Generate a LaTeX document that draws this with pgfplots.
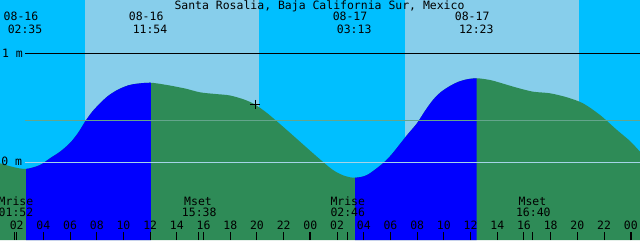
\documentclass[border=0pt]{standalone}
\usepackage{fontspec}
\setmainfont{DejaVu Sans Mono}
\usepackage{pgfplots}
\usepackage{pgfplotstable}
\pgfplotsset{compat=1.18}
\usepgfplotslibrary{fillbetween}
\definecolor{nightc}{RGB}{0,191,255}
\definecolor{dayc}{RGB}{135,206,235}
\definecolor{floodc}{RGB}{0,0,255}
\definecolor{ebbc}{RGB}{46,139,87}
\definecolor{zeroc}{RGB}{165,212,232}
\definecolor{midc}{RGB}{100,165,140}

% hours from 08-16 00:00, water level in m
\pgfplotstableread{
h m
0.750 -0.009
1.724 -0.043
2.698 -0.061
3.746 -0.025
4.495 0.037
5.244 0.097
5.993 0.177
6.593 0.269
7.117 0.372
7.641 0.461
8.241 0.541
8.840 0.608
9.514 0.662
10.113 0.695
10.713 0.716
11.986 0.730
13.259 0.709
14.608 0.677
15.731 0.642
16.855 0.627
17.978 0.613
19.102 0.573
19.851 0.530
20.750 0.452
21.948 0.327
23.221 0.189
24.495 0.051
25.694 -0.071
26.593 -0.126
27.343 -0.141
28.240 -0.117
29.439 -0.009
30.112 0.076
30.712 0.168
31.311 0.260
31.986 0.358
32.585 0.471
33.184 0.572
33.783 0.645
34.457 0.700
35.056 0.737
35.730 0.761
36.481 0.771
37.454 0.755
38.205 0.730
39.478 0.684
40.676 0.648
41.948 0.633
43.221 0.596
44.419 0.541
45.693 0.434
46.966 0.296
47.940 0.195
48.690 0.097
}\tide

\newcommand{\lbl}[3]{\node[anchor=base,inner sep=0pt] at (rel axis cs:#1,#2) {#3};}

\begin{document}
\begin{tikzpicture}[font=\fontsize{8.6pt}{10pt}\selectfont]
\begin{axis}[
  width=480pt, height=180pt, scale only axis,
  xmin=0.75, xmax=48.69, ymin=-0.713, ymax=1.489,
  axis background/.style={fill=nightc},
  axis line style={draw=none},
  axis on top,
  clip mode=individual,
  ytick=\empty,
  xtick={1.867,2,4,6,8,10,12,14,15.633,16,18,20,22,24,26,26.767,28,30,32,34,36,38,40,40.667,42,44,46,48},
  xticklabels={{},02,04,06,08,10,12,14,{},16,18,20,22,00,02,{},04,06,08,10,12,14,16,{},18,20,22,00},
  xtick pos=bottom, tick align=inside,
  major tick length=6pt,
  tick style={black, line width=0.75pt},
  xticklabel style={anchor=base, yshift=8pt, inner sep=0pt, font=\fontsize{8.6pt}{10pt}\selectfont},
  extra x ticks={24,48}, extra x tick labels={},
  extra x tick style={major tick style={line width=1.6pt}},
]
\addplot[draw=none, name path=top] coordinates {(0.75,1.489) (48.69,1.489)};
\addplot[draw=none, name path=bottom] coordinates {(0.75,-0.713) (48.69,-0.713)};
\addplot[draw=none, name path=tide, smooth] table[x=h,y=m]{\tide};

% daylight bands (sunrise/sunset)
\addplot[dayc] fill between[of=top and bottom, soft clip={domain=7.117:20.151}];
\addplot[dayc] fill between[of=top and bottom, soft clip={domain=31.087:44.120}];
% ebb and flood
\addplot[ebbc] fill between[of=tide and bottom];
\addplot[floodc] fill between[of=tide and bottom, soft clip={domain=2.698:12.05}];
\addplot[floodc] fill between[of=tide and bottom, soft clip={domain=27.343:36.46}];

\addplot[black, line width=1.1pt] coordinates {(2.623,1) (48.69,1)};
\addplot[zeroc, line width=0.75pt] coordinates {(2.623,0) (48.69,0)};
\addplot[midc, line width=0.75pt] coordinates {(2.623,0.385) (48.69,0.385)};
\addplot[black, only marks, mark=+, mark size=3.4pt, mark options={line width=0.75pt}] coordinates {(19.851,0.530)};

\lbl{0.4992}{0.9604}{Santa Rosalia, Baja California Sur, Mexico}
\lbl{0.0328}{0.9125}{08-16}
\lbl{0.0391}{0.8613}{02:35}
\lbl{0.2284}{0.9125}{08-16}
\lbl{0.2344}{0.8613}{11:54}
\lbl{0.5469}{0.9125}{08-17}
\lbl{0.5534}{0.8613}{03:13}
\lbl{0.7378}{0.9125}{08-17}
\lbl{0.7442}{0.8613}{12:23}
\lbl{0.0195}{0.7613}{1 m}
\lbl{0.0183}{0.3096}{0 m}
\lbl{0.0250}{0.1417}{Mrise}
\lbl{0.0250}{0.0971}{01:52}
\lbl{0.3094}{0.1417}{Mset}
\lbl{0.3113}{0.0971}{15:38}
\lbl{0.5434}{0.1417}{Mrise}
\lbl{0.5434}{0.0971}{02:46}
\lbl{0.8320}{0.1417}{Mset}
\lbl{0.8333}{0.0971}{16:40}

\coordinate (SW) at (rel axis cs:0,0);
\coordinate (NE) at (rel axis cs:1,1);
\end{axis}
\pgfresetboundingbox
\path[use as bounding box] (SW) rectangle (NE);
\end{tikzpicture}
\end{document}
